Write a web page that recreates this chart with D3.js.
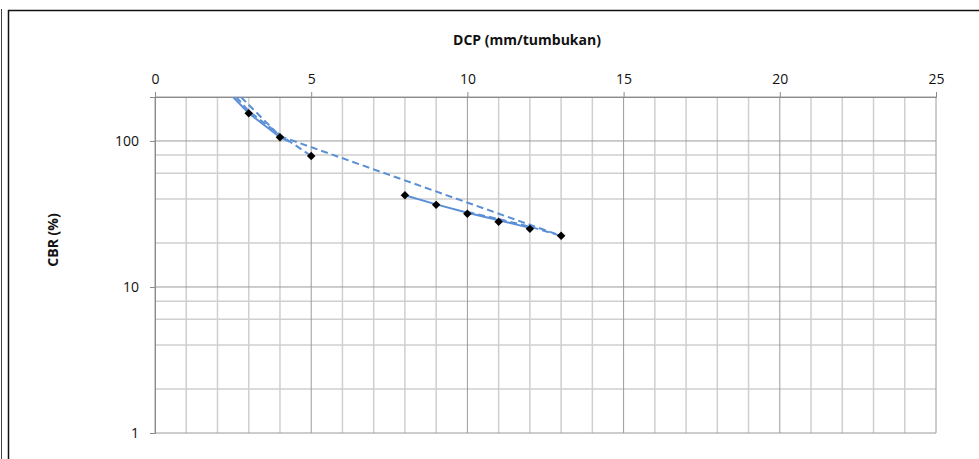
<!DOCTYPE html>
<html>
<head>
<meta charset="utf-8">
<script src="https://cdn.jsdelivr.net/npm/d3@7"></script>
<style>
  body { margin: 0; background: #fff; }
  svg { display: block; font-family: "Open Sans", sans-serif; }
</style>
</head>
<body>
<svg id="chart" width="979" height="459"></svg>
<script>
// Measured points (DCP vs CBR)
var dcp = [3, 4, 5, 8, 9, 10, 11, 12, 13];
var cbr = [155, 106, 79, 42.5, 36.5, 31.7, 28, 25, 22.4];

// Blue lines
var solidA_x = [2.5, 3, 4, 4.3];
var solidA_y = [200, 155, 106, 99];
var solidB_x = [8, 9, 10, 11, 12];
var solidB_y = [42.5, 36.8, 32.2, 28.6, 25.4];
var dashA_x = [2.6, 3, 4, 5];
var dashA_y = [200, 160, 110, 79];
var dashB_x = [2.75, 4, 13];
var dashB_y = [200, 108, 22.4];
var dashC_x = [10, 11, 12, 13];
var dashC_y = [32.6, 29.2, 25.9, 22.4];

// Axis ticks
var xTicks = [0, 5, 10, 15, 20, 25];
var yTicks = [1, 10, 100];
var yMinor = [2, 4, 6, 8, 20, 40, 60, 80];

var svg = d3.select("#chart");
var pLeft = 155, pRight = 936, pTop = 97, pBottom = 433;

var x = d3.scaleLinear().domain([0, 25]).range([pLeft, pRight]);
var y = d3.scaleLog().domain([1, 200]).range([pBottom, pTop]);

// Chart frame
svg.append("line").attr("x1", 1.5).attr("x2", 1.5).attr("y1", 9).attr("y2", 459)
    .attr("stroke", "#444").attr("stroke-width", 1);
svg.append("rect").attr("x", 8.5).attr("y", 10.5).attr("width", 1000).attr("height", 500)
    .attr("fill", "none").attr("stroke", "#111").attr("stroke-width", 1.5);

// Grid - minor verticals at every unit
var g = svg.append("g");
g.selectAll(".vmin").data(d3.range(1, 25).filter(function(d) { return d % 5 != 0; }))
    .enter().append("line")
    .attr("x1", function(d) { return x(d); }).attr("x2", function(d) { return x(d); })
    .attr("y1", pTop).attr("y2", pBottom)
    .attr("stroke", "#cfcfcf").attr("stroke-width", 1.5);
g.selectAll(".hmin").data(yMinor).enter().append("line")
    .attr("x1", pLeft).attr("x2", pRight)
    .attr("y1", function(d) { return y(d); }).attr("y2", function(d) { return y(d); })
    .attr("stroke", "#cfcfcf").attr("stroke-width", 1.5);
g.selectAll(".vmaj").data(xTicks).enter().append("line")
    .attr("x1", function(d) { return x(d); }).attr("x2", function(d) { return x(d); })
    .attr("y1", pTop).attr("y2", pBottom)
    .attr("stroke", "#9a9a9a").attr("stroke-width", 1);
g.selectAll(".hmaj").data(yTicks.concat([200])).enter().append("line")
    .attr("x1", pLeft).attr("x2", pRight)
    .attr("y1", function(d) { return y(d); }).attr("y2", function(d) { return y(d); })
    .attr("stroke", "#9a9a9a").attr("stroke-width", 1);

// Axes
var xAxis = svg.append("g").attr("transform", "translate(0," + pTop + ")")
    .call(d3.axisTop(x).tickValues(xTicks).tickSize(5).tickPadding(8).tickFormat(d3.format("d")));
var yAxis = svg.append("g").attr("transform", "translate(" + pLeft + ",0)")
    .call(d3.axisLeft(y).tickValues(yTicks).tickSize(5).tickPadding(11).tickFormat(d3.format("d")));
[xAxis, yAxis].forEach(function(a) {
    a.select(".domain").attr("stroke", "#8a8a8a");
    a.selectAll(".tick line").attr("stroke", "#8a8a8a");
    a.selectAll("text").attr("font-family", "Open Sans").attr("font-size", "14px").attr("fill", "#111");
});

// Axis titles
svg.append("text").attr("x", 527).attr("y", 45).attr("text-anchor", "middle")
    .attr("font-size", "14px").attr("font-weight", "bold").attr("fill", "#111")
    .text("DCP (mm/tumbukan)");
svg.append("text").attr("transform", "translate(58,240) rotate(-90)").attr("text-anchor", "middle")
    .attr("font-size", "14px").attr("font-weight", "bold").attr("fill", "#111")
    .text("CBR (%)");

// Clip for lines
svg.append("clipPath").attr("id", "plot").append("rect")
    .attr("x", pLeft).attr("y", pTop).attr("width", pRight - pLeft).attr("height", pBottom - pTop);

var line = d3.line().x(function(d) { return x(d[0]); }).y(function(d) { return y(d[1]); });
var series = [
    {xs: solidA_x, ys: solidA_y, dash: null},
    {xs: solidB_x, ys: solidB_y, dash: null},
    {xs: dashA_x, ys: dashA_y, dash: "7,4"},
    {xs: dashB_x, ys: dashB_y, dash: "7,4"},
    {xs: dashC_x, ys: dashC_y, dash: "7,4"}
];
var lg = svg.append("g").attr("clip-path", "url(#plot)");
series.forEach(function(s) {
    lg.append("path")
        .datum(s.xs.map(function(v, i) { return [v, s.ys[i]]; }))
        .attr("d", line)
        .attr("fill", "none")
        .attr("stroke", "#5b8fd6")
        .attr("stroke-width", 2)
        .attr("stroke-dasharray", s.dash);
});

// Diamond markers (square turned 45 degrees)
var diamond = d3.symbol().type(d3.symbolSquare).size(36);
svg.append("g").selectAll("path").data(dcp).enter().append("path")
    .attr("d", diamond)
    .attr("transform", function(d, i) { return "translate(" + x(d) + "," + y(cbr[i]) + ") rotate(45)"; })
    .attr("fill", "#000");
</script>
</body>
</html>
